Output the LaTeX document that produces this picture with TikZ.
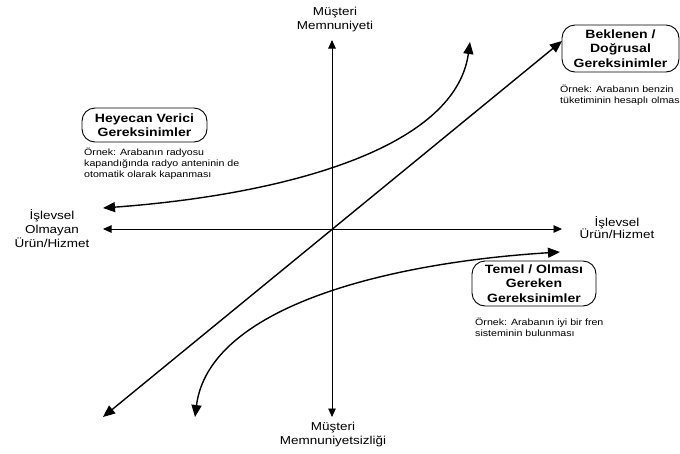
\documentclass[tikz,border=0pt]{standalone}
\usepackage{fontspec}
\setmainfont{Liberation Sans}[FakeStretch=1.17]
\usetikzlibrary{arrows.meta}
\begin{document}
\begin{tikzpicture}[x=1pt,y=-1pt,
  axisline/.style={line width=0.9pt,{Triangle[length=8.5pt,width=7.5pt]}-{Triangle[length=8.5pt,width=7.5pt]}},
  curveline/.style={line width=1.4pt,{Triangle[length=12pt,width=10pt]}-{Triangle[length=12pt,width=10pt]}},
  box/.style={draw,line width=0.9pt,rounded corners=13pt,align=center,inner sep=0pt,
    font=\bfseries\fontsize{12}{14.5}\selectfont},
  lbl/.style={align=center,inner sep=0pt,font=\fontsize{11.5}{14}\selectfont},
  example/.style={align=left,anchor=north west,inner sep=0pt,font=\fontsize{9.1}{11}\selectfont}]
\useasboundingbox (0,0) rectangle (680,453);
% end points
\coordinate (O) at (332,229);
\coordinate (vt) at (332,40);
\coordinate (vb) at (332,417);
\coordinate (hl) at (103,229);
\coordinate (hr) at (562,229);
\coordinate (dl) at (103,417);
\coordinate (dr) at (562,41);
\coordinate (ua) at (103,208);
\coordinate (ub) at (470,42);
\coordinate (la) at (195,417);
\coordinate (lb) at (560,252);
% axes
\draw[axisline] (vb) -- (vt);
\draw[axisline] (hl) -- (hr);
% diagonal
\draw[curveline] (dl) -- (dr);
% curves
\draw[curveline] (ua) .. controls (280,195) and (455,150) .. (ub);
\draw[curveline] (la) .. controls (209,308) and (384,263) .. (lb);
% axis labels
\node[lbl] (top) at (335,20) {Müşteri\\Memnuniyeti};
\node[lbl] (bot) at (333,435) {Müşteri\\Memnuniyetsizliği};
\node[lbl] (left) at (52,229) {İşlevsel\\Olmayan\\Ürün/Hizmet};
\node[lbl,font=\fontsize{11.5}{12.5}\selectfont] (right) at (617,227.5) {İşlevsel\\Ürün/Hizmet};
% boxes
\node[box,minimum width=125pt,minimum height=34pt] (heyecan) at (144.5,125) {Heyecan Verici\\Gereksinimler};
\node[box,minimum width=117pt,minimum height=47pt] (beklenen) at (620.5,48.5) {Beklenen /\\Doğrusal\\Gereksinimler};
\node[box,minimum width=124pt,minimum height=45pt] (temel) at (534,283.5) {Temel / Olması\\Gereken\\Gereksinimler};
% examples
\node[example] (ex1) at (84,148) {Örnek: Arabanın radyosu\\kapandığında radyo anteninin de\\otomatik olarak kapanması};
\node[example] (ex2) at (560,85) {Örnek: Arabanın benzin\\tüketiminin hesaplı olması};
\node[example] (ex3) at (475,318) {Örnek: Arabanın iyi bir fren\\sisteminin bulunması};
\end{tikzpicture}
\end{document}
